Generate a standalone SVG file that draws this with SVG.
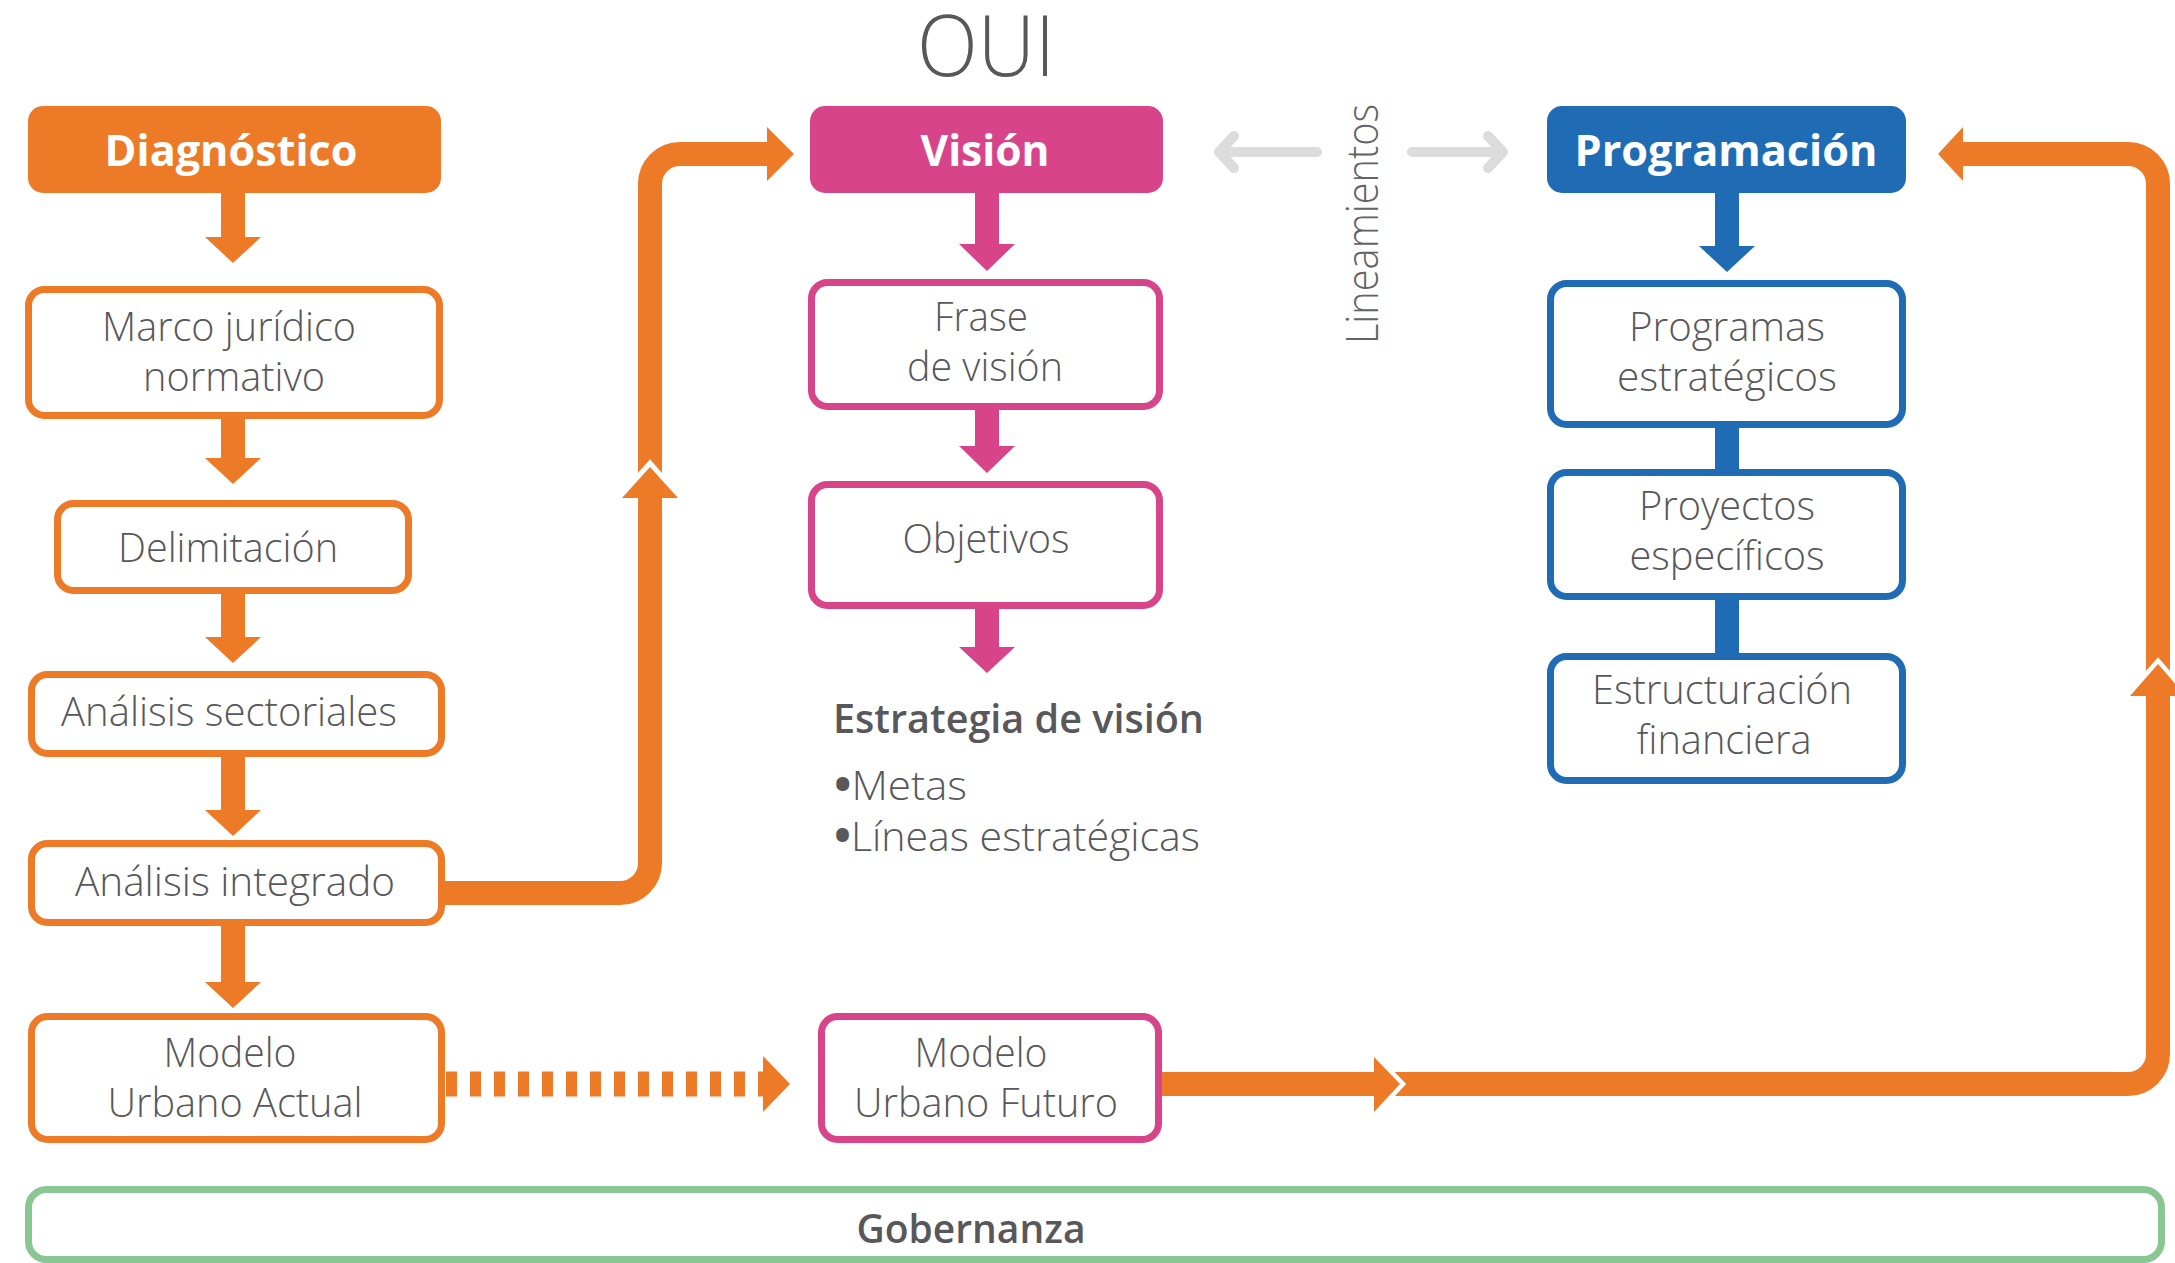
<svg xmlns="http://www.w3.org/2000/svg" width="2175" height="1263" viewBox="0 0 2175 1263">
<style>
.t{font-family:"Open Sans","Liberation Sans",sans-serif;font-weight:300;font-size:40px;fill:#58585A;text-anchor:middle}
.h{font-family:"Open Sans","Liberation Sans",sans-serif;font-weight:700;font-size:43px;fill:#fff;text-anchor:middle}
.b{font-family:"Open Sans","Liberation Sans",sans-serif;font-weight:600;font-size:40px;fill:#58585A}
.bu{font-weight:700;font-size:44px}
.bo{fill:#fff;stroke:#EC7A27;stroke-width:7}
.bp{fill:#fff;stroke:#D8448A;stroke-width:7}
.bb{fill:#fff;stroke:#1F6CB4;stroke-width:7}
.fo{fill:#EC7A27}
.fp{fill:#D8448A}
.fb{fill:#1F6CB4}
.ln{fill:none;stroke:#EC7A27;stroke-width:24}
.wh{fill:none;stroke:#fff;stroke-width:9;stroke-linejoin:miter}
.gr{fill:none;stroke:#DCDCDC;stroke-width:10;stroke-linecap:round;stroke-linejoin:round}
</style>
<rect width="2175" height="1263" fill="#fff"/>

<text x="986" y="76" font-family="Open Sans, Liberation Sans, sans-serif" font-weight="300" font-size="84" fill="#58585A" text-anchor="middle" textLength="138" lengthAdjust="spacingAndGlyphs">OUI</text>

<g id="connectors">
  <!-- left column -->
  <polygon class="fo" points="221,193 245,193 245,237 261,237 233,263 205,237 221,237"/>
  <polygon class="fo" points="221,419 245,419 245,458 261,458 233,484 205,458 221,458"/>
  <polygon class="fo" points="221,594 245,594 245,637 261,637 233,663 205,637 221,637"/>
  <polygon class="fo" points="221,757 245,757 245,810 261,810 233,836 205,810 221,810"/>
  <polygon class="fo" points="221,926 245,926 245,982 261,982 233,1008 205,982 221,982"/>
  <!-- middle column -->
  <polygon class="fp" points="975,193 999,193 999,244 1015,244 987,271 959,244 975,244"/>
  <polygon class="fp" points="975,410 999,410 999,446 1015,446 987,473 959,446 975,446"/>
  <polygon class="fp" points="975,609 999,609 999,647 1015,647 987,673 959,647 975,647"/>
  <!-- right column -->
  <polygon class="fb" points="1715,193 1739,193 1739,246 1755,246 1727,272 1699,246 1715,246"/>
  <rect class="fb" x="1715" y="426" width="24" height="45"/>
  <rect class="fb" x="1715" y="598" width="24" height="57"/>
  <!-- Análisis integrado to Visión -->
  <path class="ln" d="M 444 893 H 620 A 30 30 0 0 0 650 863 V 184 A 30 30 0 0 1 680 154 H 769"/>
  <polygon class="fo" points="767,127 794,154 767,181"/>
  <polyline class="wh" points="622,498 650,466 678,498"/>
  <polygon class="fo" points="622,498 650,467 678,498"/>
  <!-- Modelo Urbano Actual to Modelo Urbano Futuro (dashed) -->
  <line x1="446" y1="1084" x2="764" y2="1084" stroke="#EC7A27" stroke-width="25" stroke-dasharray="11 13"/>
  <polygon class="fo" points="763,1056 790,1084 763,1112"/>
  <!-- Modelo Urbano Futuro to Programación -->
  <path class="ln" d="M 1160 1084 H 2128 A 30 30 0 0 0 2158 1054 V 184 A 30 30 0 0 0 2128 154 H 1961"/>
  <polygon class="fo" points="1963,127 1938,154 1963,181"/>
  <polyline class="wh" points="1374,1057 1400,1084 1374,1112"/>
  <polygon class="fo" points="1374,1057 1400,1084 1374,1112"/>
  <polyline class="wh" points="2130,696 2158,664 2186,696"/>
  <polygon class="fo" points="2130,696 2158,664 2186,696"/>
  <!-- Lineamientos arrows -->
  <path class="gr" d="M 1317 152 H 1220 M 1234 136 L 1219 152 L 1234 168"/>
  <path class="gr" d="M 1412 152 H 1502 M 1488 136 L 1503 152 L 1488 168"/>
</g>

<g id="lineamientos">
  <text transform="translate(1378,224) rotate(-90)" font-family="Open Sans, Liberation Sans, sans-serif" font-weight="300" font-size="44" fill="#646466" text-anchor="middle" textLength="240" lengthAdjust="spacingAndGlyphs">Lineamientos</text>
</g>

<g id="diagnostico">
  <rect class="fo" x="28" y="106" width="413" height="87" rx="15"/>
  <text class="h" x="231" y="166" textLength="253" lengthAdjust="spacingAndGlyphs">Diagnóstico</text>
</g>
<g id="marco">
  <rect class="bo" x="28.5" y="289.5" width="411" height="126" rx="16"/>
  <text class="t" x="229" y="341" textLength="254" lengthAdjust="spacingAndGlyphs">Marco jurídico</text>
  <text class="t" x="234" y="391" textLength="182" lengthAdjust="spacingAndGlyphs">normativo</text>
</g>
<g id="delimitacion">
  <rect class="bo" x="57.5" y="503.5" width="351" height="87" rx="16"/>
  <text class="t" x="228" y="562" textLength="220" lengthAdjust="spacingAndGlyphs">Delimitación</text>
</g>
<g id="analisis-sectoriales">
  <rect class="bo" x="31.5" y="674.5" width="410" height="79" rx="16"/>
  <text class="t" x="229" y="726" textLength="336" lengthAdjust="spacingAndGlyphs">Análisis sectoriales</text>
</g>
<g id="analisis-integrado">
  <rect class="bo" x="31.5" y="843.5" width="410" height="79" rx="16"/>
  <text class="t" x="235" y="896" textLength="320" lengthAdjust="spacingAndGlyphs">Análisis integrado</text>
</g>
<g id="modelo-actual">
  <rect class="bo" x="31.5" y="1016.5" width="410" height="123" rx="16"/>
  <text class="t" x="230" y="1067" textLength="133" lengthAdjust="spacingAndGlyphs">Modelo</text>
  <text class="t" x="235" y="1117" textLength="255" lengthAdjust="spacingAndGlyphs">Urbano Actual</text>
</g>

<g id="vision">
  <rect class="fp" x="810" y="106" width="353" height="87" rx="15"/>
  <text class="h" x="985" y="166" textLength="129" lengthAdjust="spacingAndGlyphs">Visión</text>
</g>
<g id="frase">
  <rect class="bp" x="811.5" y="282.5" width="348" height="124" rx="16"/>
  <text class="t" x="981" y="331" textLength="94" lengthAdjust="spacingAndGlyphs">Frase</text>
  <text class="t" x="985" y="381" textLength="156" lengthAdjust="spacingAndGlyphs">de visión</text>
</g>
<g id="objetivos">
  <rect class="bp" x="811.5" y="484.5" width="348" height="121" rx="16"/>
  <text class="t" x="986" y="553" textLength="167" lengthAdjust="spacingAndGlyphs">Objetivos</text>
</g>
<g id="estrategia">
  <text class="b" x="833" y="733" textLength="371" lengthAdjust="spacingAndGlyphs">Estrategia de visión</text>
  <text class="t" x="834" y="800" style="text-anchor:start" textLength="133" lengthAdjust="spacingAndGlyphs"><tspan class="bu">•</tspan>Metas</text>
  <text class="t" x="834" y="851" style="text-anchor:start" textLength="366" lengthAdjust="spacingAndGlyphs"><tspan class="bu">•</tspan>Líneas estratégicas</text>
</g>
<g id="modelo-futuro">
  <rect class="bp" x="821.5" y="1016.5" width="337" height="123" rx="16"/>
  <text class="t" x="981" y="1067" textLength="133" lengthAdjust="spacingAndGlyphs">Modelo</text>
  <text class="t" x="986" y="1117" textLength="264" lengthAdjust="spacingAndGlyphs">Urbano Futuro</text>
</g>

<g id="programacion">
  <rect class="fb" x="1547" y="106" width="359" height="87" rx="15"/>
  <text class="h" x="1726" y="166" textLength="303" lengthAdjust="spacingAndGlyphs">Programación</text>
</g>
<g id="programas">
  <rect class="bb" x="1550.5" y="283.5" width="352" height="141" rx="16"/>
  <text class="t" x="1727" y="341" textLength="196" lengthAdjust="spacingAndGlyphs">Programas</text>
  <text class="t" x="1727" y="391" textLength="220" lengthAdjust="spacingAndGlyphs">estratégicos</text>
</g>
<g id="proyectos">
  <rect class="bb" x="1550.5" y="472.5" width="352" height="124" rx="16"/>
  <text class="t" x="1727" y="520" textLength="176" lengthAdjust="spacingAndGlyphs">Proyectos</text>
  <text class="t" x="1727" y="570" textLength="195" lengthAdjust="spacingAndGlyphs">específicos</text>
</g>
<g id="estructuracion">
  <rect class="bb" x="1550.5" y="656.5" width="352" height="124" rx="16"/>
  <text class="t" x="1722" y="704" textLength="260" lengthAdjust="spacingAndGlyphs">Estructuración</text>
  <text class="t" x="1724" y="754" textLength="175" lengthAdjust="spacingAndGlyphs">financiera</text>
</g>

<g id="gobernanza">
  <rect x="28.5" y="1189.5" width="2133" height="70" rx="18" fill="#fff" stroke="#89C693" stroke-width="7"/>
  <text class="b" x="971" y="1243" style="text-anchor:middle" textLength="229" lengthAdjust="spacingAndGlyphs">Gobernanza</text>
</g>
</svg>
